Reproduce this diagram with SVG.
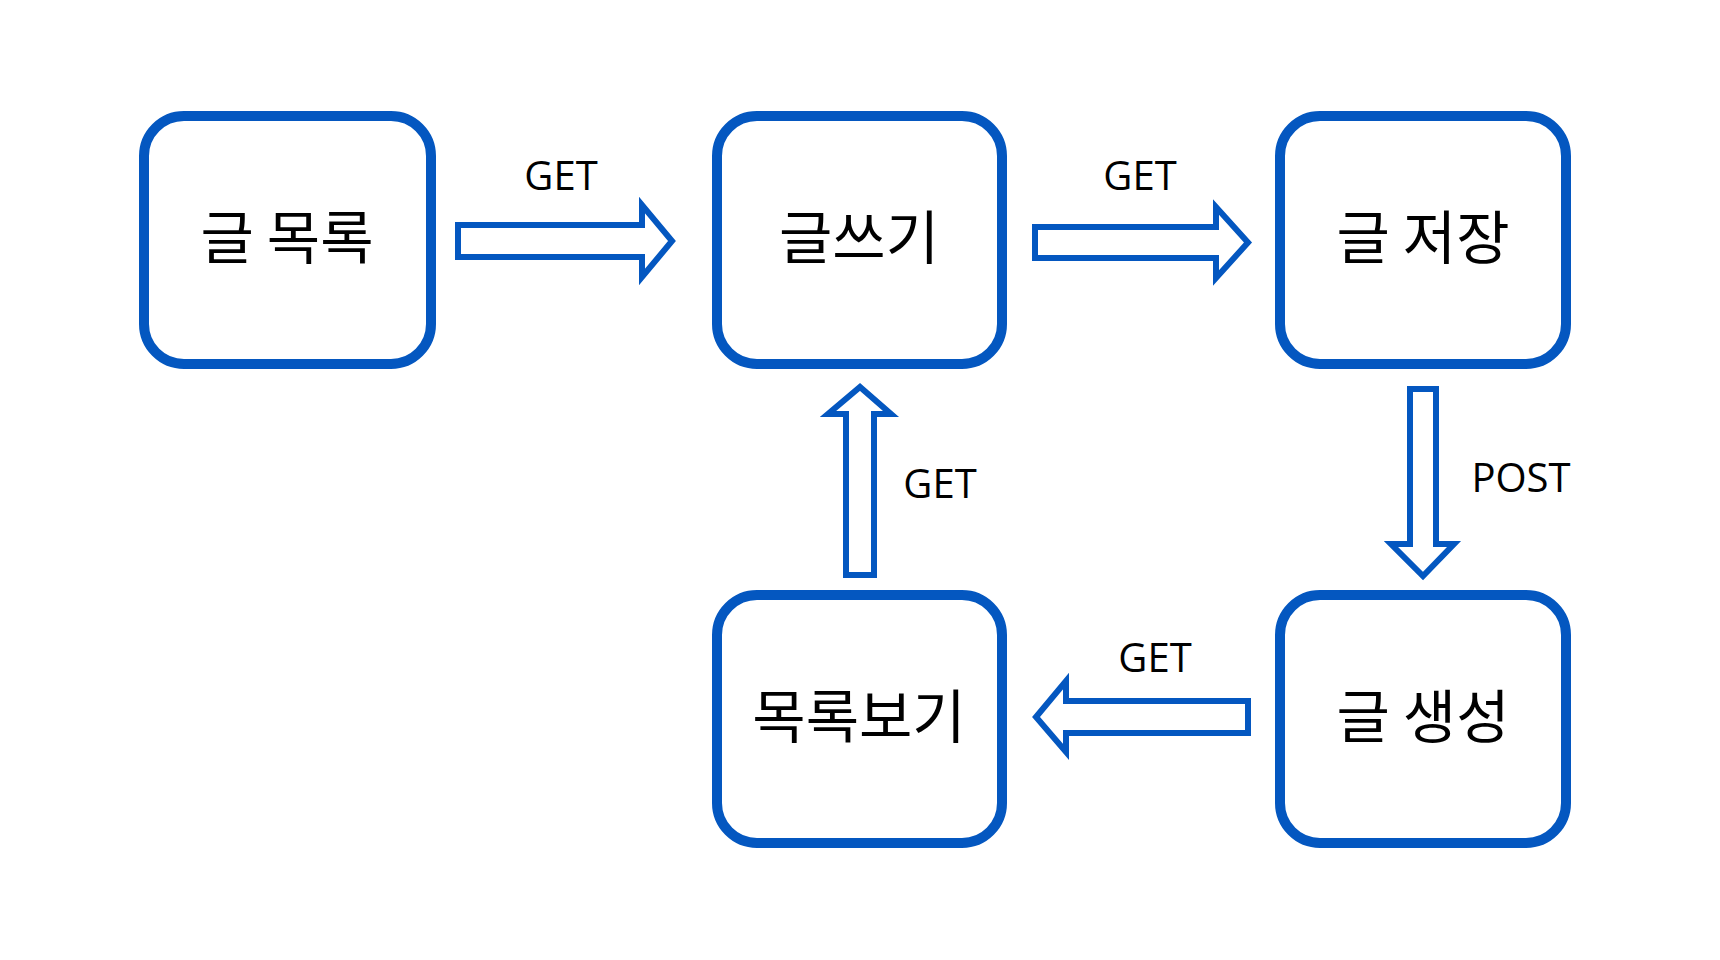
<svg xmlns="http://www.w3.org/2000/svg" width="1720" height="960" viewBox="0 0 1720 960">
<style>
.box{fill:#fff;stroke:#0457C0;stroke-width:10}
.arr{fill:#fff;stroke:#0457C0;stroke-width:6;stroke-linejoin:miter}
.kt{font-family:"Noto Sans CJK KR","Noto Sans",sans-serif;font-size:58px;fill:#000;text-anchor:middle}
.lt{font-family:"Open Sans","Noto Sans",sans-serif;font-size:40px;fill:#000;text-anchor:middle}
</style>
<rect width="1720" height="960" fill="#fff"/>
<g id="connectors">
<g id="c1"><polygon class="arr" points="458,225 642,225 642,205 672,241 642,277 642,257 458,257"/><text class="lt" x="561" y="190">GET</text></g>
<g id="c2"><polygon class="arr" points="1035,227 1216,227 1216,207 1248,242.5 1216,278 1216,258 1035,258"/><text class="lt" x="1140" y="190">GET</text></g>
<g id="c3"><polygon class="arr" points="846,575 846,414 828,414 860,387 891,414 874,414 874,575"/><text class="lt" x="940" y="498">GET</text></g>
<g id="c4"><polygon class="arr" points="1410,389 1436,389 1436,544 1454,544 1423,576 1391,544 1410,544"/><text class="lt" x="1521" y="492">POST</text></g>
<g id="c5"><polygon class="arr" points="1248,701 1248,733 1066,733 1066,752 1036,717 1066,681 1066,701"/><text class="lt" x="1155" y="672">GET</text></g>
</g>
<g id="n1"><rect class="box" x="144" y="116" width="287" height="248" rx="40"/><text class="kt" x="287" y="259">글 목록</text></g>
<g id="n2"><rect class="box" x="717" y="116" width="285" height="248" rx="40"/><text class="kt" x="859" y="259">글쓰기</text></g>
<g id="n3"><rect class="box" x="1280" y="116" width="286" height="248" rx="40"/><text class="kt" x="1423" y="259">글 저장</text></g>
<g id="n4"><rect class="box" x="717" y="595" width="285" height="248" rx="40"/><text class="kt" x="859" y="738">목록보기</text></g>
<g id="n5"><rect class="box" x="1280" y="595" width="286" height="248" rx="40"/><text class="kt" x="1423" y="738">글 생성</text></g>
</svg>
